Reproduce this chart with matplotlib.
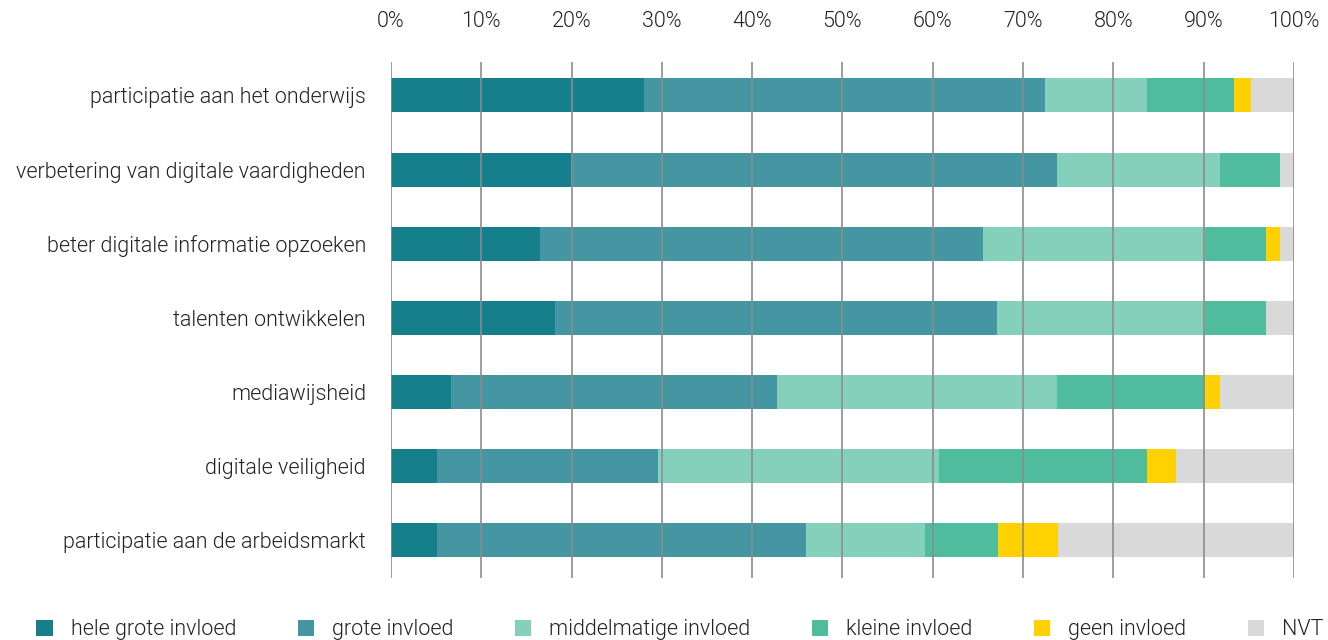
import matplotlib
matplotlib.use("Agg")
import matplotlib.pyplot as plt
import numpy as np
from matplotlib.ticker import FuncFormatter

categories = [
    "participatie aan het onderwijs",
    "verbetering van digitale vaardigheden",
    "beter digitale informatie opzoeken",
    "talenten ontwikkelen",
    "mediawijsheid",
    "digitale veiligheid",
    "participatie aan de arbeidsmarkt",
]
series_names = ["hele grote invloed", "grote invloed", "middelmatige invloed",
                "kleine invloed", "geen invloed", "NVT"]
hele_grote = [28.0, 19.9, 16.5, 18.2, 6.6, 5.1, 5.1]
grote = [44.4, 53.9, 49.1, 48.9, 36.2, 24.5, 40.9]
middelmatige = [11.3, 18.0, 24.5, 23.0, 31.0, 31.1, 13.1]
kleine = [9.7, 6.7, 6.8, 6.8, 16.3, 23.0, 8.1]
geen = [1.8, 0.0, 1.6, 0.0, 1.7, 3.2, 6.7]
nvt = [4.8, 1.5, 1.5, 3.1, 8.2, 13.1, 26.1]
xticks = [0, 10, 20, 30, 40, 50, 60, 70, 80, 90, 100]

colors = ["#167F8C", "#4497A2", "#84D0BA", "#4FBD9D", "#FFD100", "#D9D9D9"]

plt.rcParams['font.family'] = ['Roboto', 'DejaVu Sans']
plt.rcParams['font.weight'] = 300

fig = plt.figure(figsize=(13.28, 6.4), dpi=100)
ax = fig.add_axes([0.2944, 0.097, 0.68, 0.806])

data = [hele_grote, grote, middelmatige, kleine, geen, nvt]
y = np.arange(len(categories))
left = np.zeros(len(categories))
handles = []
for vals, name, c in zip(data, series_names, colors):
    v = np.array(vals)
    h = ax.barh(y, v, left=left, height=0.46, color=c, label=name, zorder=1)
    handles.append(h)
    left += v

ax.set_xlim(0, 100)
ax.set_ylim(6.51, -0.45)
ax.set_xticks(xticks)
ax.xaxis.set_major_formatter(FuncFormatter(lambda v, p: f"{int(v)}%"))
ax.xaxis.tick_top()
ax.tick_params(axis='x', length=0, pad=22, labelsize=15.5, colors="#222222")
ax.set_yticks(y)
ax.set_yticklabels(categories)
ax.tick_params(axis='y', length=0, pad=18, labelsize=15.5, colors="#222222")
for lab in ax.get_xticklabels() + ax.get_yticklabels():
    lab.set_fontweight(300)
for s in ax.spines.values():
    s.set_visible(False)
ax.grid(axis='x', color="#8c8c8c", linewidth=1.2, zorder=2)
ax.set_axisbelow(False)

leg = fig.legend(handles=handles, labels=series_names, loc='lower left',
                 bbox_to_anchor=(0.021, -0.014, 0.982, 0.06), mode='expand',
                 ncol=6, frameon=False, fontsize=15.5, handlelength=0.75,
                 handleheight=0.75, handletextpad=0.85, borderaxespad=0)
for t in leg.get_texts():
    t.set_color("#222222")
    t.set_fontweight(300)

fig.savefig("out.png", dpi=100)
